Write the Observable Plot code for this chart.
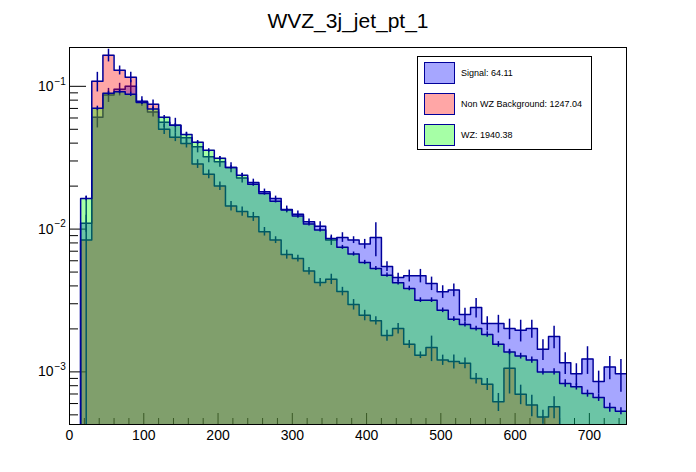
<!DOCTYPE html>
<html><head><meta charset="utf-8">
<script src="https://cdn.jsdelivr.net/npm/d3@7"></script>
<script src="https://cdn.jsdelivr.net/npm/@observablehq/plot@0.6"></script>
<style>
body{margin:0;background:#fff;font-family:"Liberation Sans",Arial,Helvetica,sans-serif;}
#wrap{position:relative;width:696px;height:472px;}
#legend{position:absolute;left:417px;top:56px;width:175px;height:94px;border:1px solid #000;background:#fff;box-sizing:border-box;}
.item{position:absolute;left:6px;display:flex;align-items:center;font-size:9px;color:#000;white-space:nowrap;}
.sw{width:31px;height:22px;border:1px solid #000099;box-sizing:border-box;margin-right:6px;}
</style></head><body>
<div id="wrap"><div id="legend"></div></div>
<script>
const title = "WVZ_3j_jet_pt_1";
const binWidth = 15;
const binLow = d3.range(0, 750, binWidth);
const xTicks = [0, 100, 200, 300, 400, 500, 600, 700];
const xMinorTicks = [20,40,60,80,120,140,160,180,220,240,260,280,320,340,360,380,420,440,460,480,520,540,560,580,620,640,660,680,720,740];
const yMajorTicks = [1e-3, 1e-2, 1e-1];
const yTickExponents = ["\u22123", "\u22122", "\u22121"];
const yMinorTicks = [5e-4,6e-4,7e-4,8e-4,9e-4,2e-3,3e-3,4e-3,5e-3,6e-3,7e-3,8e-3,9e-3,2e-2,3e-2,4e-2,5e-2,6e-2,7e-2,8e-2,9e-2];

const seriesNames = ["Signal", "Non WZ Background", "WZ"];
const seriesYields = ["64.11", "1247.04", "1940.38"];
const seriesColors = ["#0000ff", "#ff0000", "#00ff00"];

const signal = [
0, 0.011, 0.0606, 0.0869, 0.0953, 0.100, 0.0785, 0.066, 0.056, 0.0533,
0.0437, 0.0377, 0.0321, 0.0296, 0.027, 0.0228, 0.0212, 0.01827, 0.0164, 0.01374,
0.01268, 0.01125, 0.01049, 0.00838, 0.00875, 0.00838, 0.00786, 0.00875, 0.00547, 0.00459,
0.00471, 0.00471, 0.00416, 0.00364, 0.00374, 0.00252, 0.00282, 0.00218, 0.00218, 0.00201,
0.00196, 0.00201, 0.00144, 0.00177, 0.00116, 0.00097, 0.00123, 0.000857, 0.00108, 0.00097];
const signalErr = [
0, 0.0015, 0.0095, 0.0098, 0.0097, 0.010, 0.006, 0.005, 0.0045, 0.0064,
0.004, 0.0035, 0.003, 0.0025, 0.0022, 0.0018, 0.00117, 0.0008, 0.00062, 0.00076,
0.0007, 0.0005, 0.00076, 0.0007, 0.00068, 0.00046, 0.00061, 0.00234, 0.00043, 0.00031,
0.00045, 0.00051, 0.00045, 0.00037, 0.00038, 0.00027, 0.00044, 0.00025, 0.00031, 0.00033,
0.00034, 0.00029, 0.00024, 0.00032, 0.0002, 0.00017, 0.00027, 0.000155, 0.0002, 0.00025];

const nonWZ = [
0, 0.0084, 0.1083, 0.165, 0.1294, 0.1156, 0.0775, 0.0748, 0.050, 0.044,
0.0398, 0.0286, 0.0242, 0.020, 0.0145, 0.0133, 0.0122, 0.0096, 0.00838, 0.00664,
0.00622, 0.00508, 0.00423, 0.00446, 0.00366, 0.00296, 0.00249, 0.00228, 0.0018, 0.00201,
0.00156, 0.00131, 0.00148, 0.00121, 0.00118, 0.00115, 0.0009, 0.00082, 0.000617, 0.00106,
0.000698, 0.000585, 0.000484, 0.000569, 0, 0, 0, 0, 0, 0];
const nonWZErr = [
0, 0.0086, 0.017, 0.0168, 0.0093, 0.0097, 0.003, 0.0054, 0.004, 0.003,
0.0028, 0.002, 0.0017, 0.0014, 0.0011, 0.001, 0.00088, 0.00066, 0.00046, 0.00048,
0.00034, 0.00031, 0.00028, 0.00037, 0.00025, 0.00025, 0.00021, 0.00015, 0.00016, 0.00017,
0.0001, 0.00007, 0.0003, 0.0001, 0.000133, 0.0001, 0.000076, 0.000079, 0.000089, 0.00036,
0.000109, 0.0001, 0.000055, 0.0001, 0, 0, 0, 0, 0, 0];

const wz = [
0, 0.0164, 0.0701, 0.0893, 0.0916, 0.0879, 0.077, 0.0693, 0.0606, 0.0533,
0.0459, 0.0405, 0.0356, 0.0313, 0.027, 0.0238, 0.0206, 0.01778, 0.0157, 0.01358,
0.01234, 0.01084, 0.00984, 0.0086, 0.00745, 0.00669, 0.00584, 0.0053, 0.00476, 0.00421,
0.00384, 0.00318, 0.00318, 0.0027, 0.00234, 0.00215, 0.00201, 0.00183, 0.00156, 0.00138,
0.00129, 0.00121, 0.001, 0.001, 0.00083, 0.000786, 0.000705, 0.000661, 0.000562, 0.00053];
const wzErr = [
0, 0.0006, 0.0025, 0.003, 0.003, 0.003, 0.0025, 0.0022, 0.0019, 0.0016,
0.0014, 0.0012, 0.001, 0.0009, 0.0008, 0.0007, 0.0006, 0.0005, 0.00045, 0.0004,
0.00036, 0.00032, 0.0003, 0.00027, 0.00024, 0.00022, 0.0002, 0.00018, 0.00016, 0.00015,
0.00014, 0.00012, 0.00012, 0.0001, 0.00009, 0.00009, 0.00008, 0.00008, 0.00007, 0.00006,
0.00006, 0.00006, 0.00005, 0.00005, 0.00005, 0.00004, 0.00004, 0.00004, 0.00004, 0.00003];

const seriesValues = [signal, nonWZ, wz];
const seriesErrors = [signalErr, nonWZErr, wzErr];

const FLOOR = 1e-6;
const LINE = "#00009a";
const W = 696, H = 472, ML = 69, MR = 70, MT = 47, MB = 48;
const plotW = W - ML - MR, plotH = H - MT - MB;

function stepPoints(values) {
  const pts = [];
  values.forEach((v, i) => {
    const y = v > 0 ? v : FLOOR;
    pts.push({x: binLow[i], y});
    pts.push({x: binLow[i] + binWidth, y});
  });
  return pts;
}
function errorBars(values, errs) {
  const out = [];
  values.forEach((v, i) => {
    if (v > 0 && errs[i] > 0) out.push({x: binLow[i] + binWidth / 2, lo: Math.max(v - errs[i], FLOOR), hi: v + errs[i]});
  });
  return out;
}

const histMarks = [];
seriesValues.forEach((vals, s) => {
  const pts = stepPoints(vals);
  histMarks.push(Plot.areaY(pts, {x: "x", y1: FLOOR, y2: "y", fill: seriesColors[s], fillOpacity: 0.35, clip: true}));
  histMarks.push(Plot.line(pts, {x: "x", y: "y", stroke: LINE, strokeWidth: 1.5, clip: true}));
  histMarks.push(Plot.ruleX(errorBars(vals, seriesErrors[s]), {x: "x", y1: "lo", y2: "hi", stroke: LINE, strokeWidth: 1.5, clip: true}));
});

const chart = Plot.plot({
  width: W, height: H,
  marginLeft: ML, marginRight: MR, marginTop: MT, marginBottom: MB,
  style: {fontFamily: '"Liberation Sans", Arial, Helvetica, sans-serif', fontSize: "14px", background: "white", color: "black"},
  x: {domain: [0, 750], label: null},
  y: {type: "log", domain: [4.28e-4, 0.187], label: null, axis: null},
  marks: [
    Plot.tickX(xTicks, {x: d => d, insetTop: plotH - 11, stroke: "black"}),
    Plot.tickX(xMinorTicks, {x: d => d, insetTop: plotH - 6, stroke: "black"}),
    Plot.tickY(yMajorTicks, {y: d => d, insetRight: plotW - 17, stroke: "black"}),
    Plot.tickY(yMinorTicks, {y: d => d, insetRight: plotW - 9, stroke: "black"}),
    ...histMarks,
    Plot.frame({stroke: "black", strokeWidth: 1}),
    Plot.axisX({ticks: xTicks, tickSize: 0, tickPadding: 6, fontSize: 14, tickFormat: d => String(d)}),
    Plot.text(yMajorTicks, {y: d => d, frameAnchor: "left", text: () => "10", textAnchor: "end", dx: -16, fontSize: 14}),
    Plot.text(yMajorTicks, {y: d => d, frameAnchor: "left", text: (d, i) => yTickExponents[i], textAnchor: "start", dx: -15, dy: -5, fontSize: 10}),
    Plot.text([title], {frameAnchor: "top", lineAnchor: "middle", dy: -26, fontSize: 21})
  ]
});
document.getElementById("wrap").prepend(chart);

const legend = document.getElementById("legend");
const itemTops = [5, 36, 67];
seriesNames.forEach((name, i) => {
  const item = document.createElement("div");
  item.className = "item";
  item.style.top = itemTops[i] + "px";
  const sw = document.createElement("div");
  sw.className = "sw";
  const c = d3.color(seriesColors[i]); c.opacity = 0.35;
  sw.style.background = c.formatRgb();
  const t = document.createElement("span");
  t.textContent = name + ": " + seriesYields[i];
  item.appendChild(sw); item.appendChild(t);
  legend.appendChild(item);
});
</script>
</body></html>
